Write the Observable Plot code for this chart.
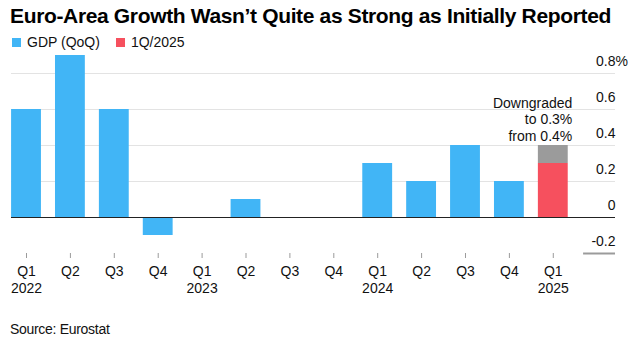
<!DOCTYPE html>
<html>
<head>
<meta charset="utf-8">
<script src="https://cdn.jsdelivr.net/npm/d3@7"></script>
<script src="https://cdn.jsdelivr.net/npm/@observablehq/plot@0.6"></script>
<style>
  html, body { margin: 0; padding: 0; background: #fff; }
  body { width: 639px; height: 349px; position: relative; overflow: hidden; font-family: "Liberation Sans", Arial, sans-serif; color: #111; }
  #title { position: absolute; left: 10px; top: 5px; font-size: 21px; line-height: 21px; font-weight: bold; letter-spacing: -0.35px; white-space: nowrap; color: #000; }
  #legend { position: absolute; left: 12px; top: 35px; font-size: 14px; line-height: 14px; white-space: nowrap; }
  .sw { display: inline-block; width: 9px; height: 9px; margin-right: 6px; vertical-align: 0px; }
  .item { display: inline-block; margin-right: 16px; }
  #chart { position: absolute; left: 0; top: 50px; }
  #source { position: absolute; left: 10px; top: 322px; font-size: 14px; line-height: 14px; letter-spacing: -0.3px; color: #111; }
</style>
</head>
<body>
<div id="title">Euro-Area Growth Wasn’t Quite as Strong as Initially Reported</div>
<div id="legend"></div>
<div id="chart"></div>
<div id="source">Source: Eurostat</div>
<script>
// Data
const quarters = ["Q1","Q2","Q3","Q4","Q1","Q2","Q3","Q4","Q1","Q2","Q3","Q4","Q1"];
const years    = ["2022","","","","2023","","","","2024","","","","2025"];
const gdp      = [0.6, 0.9, 0.6, -0.1, 0.0, 0.1, 0.0, 0.0, 0.3, 0.2, 0.4, 0.2, 0.3];
const initialLatest = 0.4;           // first estimate for Q1 2025
const yTicks = [-0.2, 0, 0.2, 0.4, 0.6, 0.8];
const yTickLabels = ["-0.2", "0", "0.2", "0.4", "0.6", "0.8"];
const seriesNames = ["GDP (QoQ)", "1Q/2025"];
const annotation = "Downgraded\nto 0.3%\nfrom 0.4%";

const BLUE = "#41b5f6", RED = "#f6505e", GRAY = "#9b9b9b";

const n = gdp.length;
const last = n - 1;
const rows = gdp.map((v, i) => ({i, v, latest: i === last}));
const half = 0.34;
const xDomain = [-0.342, 13.417];

// Legend
const legend = document.getElementById("legend");
[[seriesNames[0], BLUE], [seriesNames[1], RED]].forEach(([name, c]) => {
  const s = document.createElement("span");
  s.className = "item";
  s.innerHTML = `<span class="sw" style="background:${c}"></span>${name}`;
  legend.appendChild(s);
});

const chart = Plot.plot({
  width: 639,
  height: 250,
  marginLeft: 11,
  marginRight: 24,
  marginTop: 23,
  marginBottom: 47,
  style: {fontFamily: "Liberation Sans, Arial, sans-serif", fontSize: "14px", color: "#111", background: "transparent", overflow: "visible"},
  x: {type: "linear", domain: xDomain, axis: null},
  y: {domain: [-0.2, 0.8], axis: null},
  marks: [
    Plot.ruleY(yTicks.filter(d => d > 0), {stroke: "#e3e3e3", strokeWidth: 1}),
    Plot.ruleY([yTicks[0]], {x1: 12.69, x2: xDomain[1], stroke: GRAY, strokeWidth: 2}),
    Plot.rectY(rows, {x1: d => d.i - half, x2: d => d.i + half, y1: 0, y2: d => d.v, fill: d => d.latest ? RED : BLUE}),
    Plot.rectY([{i: last, a: gdp[last], b: initialLatest}], {x1: d => d.i - half, x2: d => d.i + half, y1: d => d.a, y2: d => d.b, fill: GRAY}),
    Plot.ruleY([0], {stroke: "#222", strokeWidth: 1}),
    Plot.text(yTicks, {x: xDomain[1], y: d => d, text: (d, k) => yTickLabels[k], textAnchor: "end", lineAnchor: "bottom", dy: -8, fontSize: 14, fill: "#111"}),
    Plot.text([yTicks[yTicks.length - 1]], {x: xDomain[1], y: d => d, text: () => "%", textAnchor: "start", lineAnchor: "bottom", dy: -8, fontSize: 14, fill: "#111"}),
    Plot.text([{i: last, y: initialLatest}], {x: "i", y: "y", text: () => annotation, textAnchor: "end", lineAnchor: "bottom", dx: 19, dy: -5, fontSize: 14, lineHeight: 1.15, fill: "#111"}),
    Plot.axisX(d3.range(n), {tickSize: 5, tickPadding: 6, tickFormat: i => years[i] ? quarters[i] + "\n" + years[i] : quarters[i], stroke: GRAY, fill: "#111", fontSize: 14, lineHeight: 1.2, label: null})
  ]
});
document.getElementById("chart").appendChild(chart);
</script>
</body>
</html>
